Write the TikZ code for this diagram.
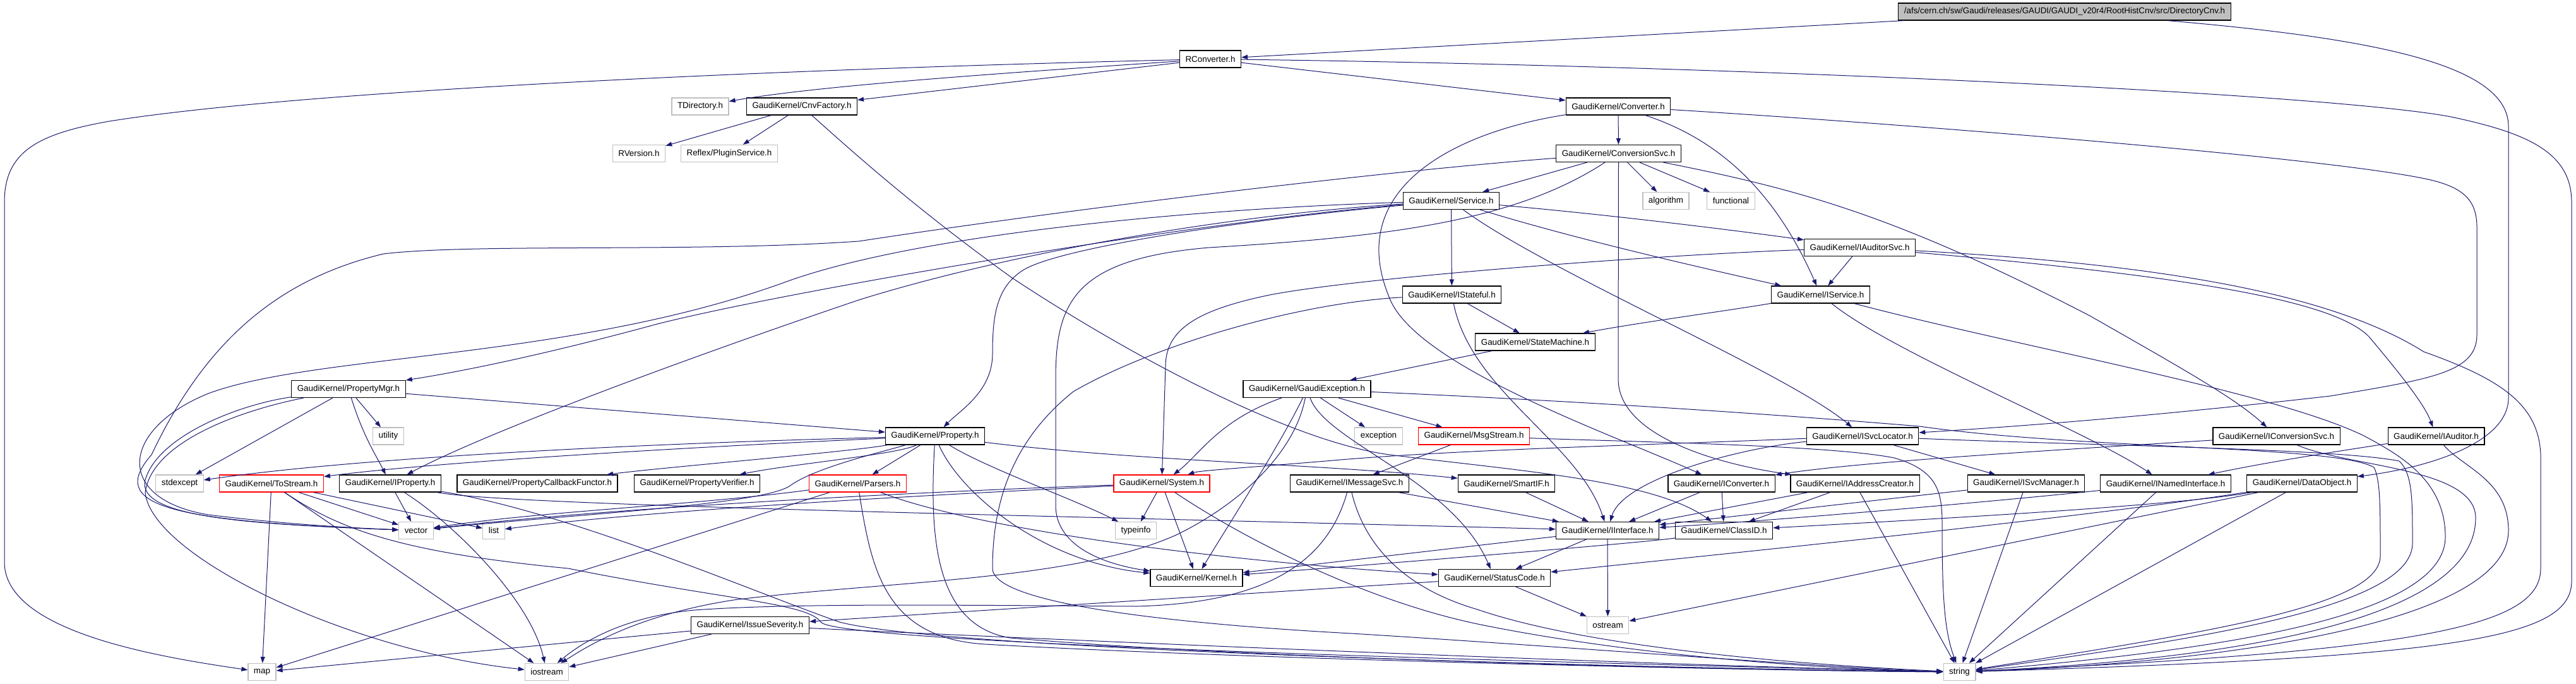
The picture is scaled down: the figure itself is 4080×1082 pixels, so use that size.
\documentclass[tikz,border=0pt]{standalone}
\usepackage{fontspec}
\newfontfamily\dotfont{Liberation Sans}
\usetikzlibrary{arrows.meta}
\definecolor{edgeblue}{HTML}{191970}
\definecolor{extgray}{HTML}{BFBFBF}
\tikzset{
  filebox/.style = {draw=black, line width=1.2pt, fill=white, inner xsep=9pt, inner ysep=0pt,
    minimum height=27pt, font=\dotfont\fontsize{13.4}{16}\selectfont},
  extbox/.style  = {filebox, draw=extgray},
  redbox/.style  = {filebox, draw=red},
  rootbox/.style = {filebox, fill=extgray},
  incl/.style    = {draw=edgeblue, line width=1pt, -{Triangle[length=10pt,width=7pt]}}
}

\begin{document}
\begin{tikzpicture}[x=1pt,y=-1pt]
  \fill[white] (0,0) rectangle (4080,1082);
  \useasboundingbox (0,0) rectangle (4080,1082);
  % headers, row by row
  \node[rootbox] (dircnv) at (3270,18.5) {/afs/cern.ch/sw/Gaudi/releases/GAUDI/GAUDI\_v20r4/RootHistCnv/src/DirectoryCnv.h};
  \node[filebox] (rconv) at (1917,93.5) {RConverter.h};
  \node[extbox]  (tdir) at (1109,168.5) {TDirectory.h};
  \node[filebox] (cnvfac) at (1270,168.5) {GaudiKernel/CnvFactory.h};
  \node[filebox] (conv) at (2563,168.5) {GaudiKernel/Converter.h};
  \node[extbox]  (rver) at (1012,243) {RVersion.h};
  \node[extbox]  (plugin) at (1155,243) {Reflex/PluginService.h};
  \node[filebox] (convsvc) at (2563.5,243) {GaudiKernel/ConversionSvc.h};
  \node[filebox] (service) at (2298.5,318) {GaudiKernel/Service.h};
  \node[extbox]  (algo) at (2638.5,318) {algorithm};
  \node[extbox]  (functional) at (2741.5,318) {functional};
  \node[filebox] (iaudsvc) at (2945.5,392) {GaudiKernel/IAuditorSvc.h};
  \node[filebox] (istateful) at (2299.5,466.5) {GaudiKernel/IStateful.h};
  \node[filebox] (iservice) at (2883.5,466.5) {GaudiKernel/IService.h};
  \node[filebox] (statemach) at (2431.5,541.5) {GaudiKernel/StateMachine.h};
  \node[filebox] (propmgr) at (552,616) {GaudiKernel/PropertyMgr.h};
  \node[filebox] (gaudiexc) at (2070,616) {GaudiKernel/GaudiException.h};
  \node[extbox]  (utility) at (615,690.5) {utility};
  \node[filebox] (property) at (1481,690.5) {GaudiKernel/Property.h};
  \node[extbox]  (exception) at (2183.5,690.5) {exception};
  \node[redbox]  (msgstream) at (2334.5,690.5) {GaudiKernel/MsgStream.h};
  \node[filebox] (isvcloc) at (2950,690.5) {GaudiKernel/ISvcLocator.h};
  \node[filebox] (iconvsvc) at (3605.5,690.5) {GaudiKernel/IConversionSvc.h};
  \node[filebox] (iauditor) at (3858.5,690.5) {GaudiKernel/IAuditor.h};
  \node[extbox]  (stdexcept) at (284.5,765.5) {stdexcept};
  \node[redbox]  (tostream) at (430,765.5) {GaudiKernel/ToStream.h};
  \node[filebox] (iproperty) at (618,765.5) {GaudiKernel/IProperty.h};
  \node[filebox] (propcb) at (851,765.5) {GaudiKernel/PropertyCallbackFunctor.h};
  \node[filebox] (propver) at (1104,765.5) {GaudiKernel/PropertyVerifier.h};
  \node[redbox]  (parsers) at (1358.5,765.5) {GaudiKernel/Parsers.h};
  \node[redbox]  (system) at (1840,765.5) {GaudiKernel/System.h};
  \node[filebox] (imsgsvc) at (2137.5,765.5) {GaudiKernel/IMessageSvc.h};
  \node[filebox] (smartif) at (2386,765.5) {GaudiKernel/SmartIF.h};
  \node[filebox] (iconverter) at (2726.5,765.5) {GaudiKernel/IConverter.h};
  \node[filebox] (iaddr) at (2938,765.5) {GaudiKernel/IAddressCreator.h};
  \node[filebox] (isvcmgr) at (3209,765.5) {GaudiKernel/ISvcManager.h};
  \node[filebox] (inamed) at (3430,765.5) {GaudiKernel/INamedInterface.h};
  \node[filebox] (dataobj) at (3646,765.5) {GaudiKernel/DataObject.h};
  \node[extbox]  (vector) at (659,840) {vector};
  \node[extbox]  (list) at (782,840) {list};
  \node[extbox]  (typeinfo) at (1799,840) {typeinfo};
  \node[filebox] (iinterface) at (2546,840) {GaudiKernel/IInterface.h};
  \node[filebox] (classid) at (2730.5,840) {GaudiKernel/ClassID.h};
  \node[filebox] (kernel) at (1895,915) {GaudiKernel/Kernel.h};
  \node[filebox] (statuscode) at (2367,915) {GaudiKernel/StatusCode.h};
  \node[filebox] (issev) at (1188,990) {GaudiKernel/IssueSeverity.h};
  \node[extbox]  (ostream) at (2546.5,990) {ostream};
  \node[extbox]  (map) at (415,1064) {map};
  \node[extbox]  (iostream) at (866,1064) {iostream};
  \node[extbox]  (string) at (3103.5,1064) {string};
  % DirectoryCnv.h
  \draw[incl] (dircnv) -- (rconv);
  \draw[incl] (dircnv) .. controls (3750,60) and (3973,100) .. (3973,200) -- (3973,630) .. controls (3973,700) and (3850,740) .. (dataobj);
  % RConverter.h
  \draw[incl] (rconv) .. controls (1600,115) and (1300,135) .. (tdir);
  \draw[incl] (rconv) -- (cnvfac);
  \draw[incl] (rconv) -- (conv);
  \draw[incl] (rconv) .. controls (1300,108) and (500,140) .. (173,192) .. controls (60,212) and (7,240) .. (7,320) -- (7,890) .. controls (7,1000) and (250,1040) .. (map);
  \draw[incl] (rconv) .. controls (2800,105) and (3700,150) .. (3882,185) .. controls (4000,210) and (4073,240) .. (4073,320) -- (4073,920) .. controls (4073,1010) and (3900,1040) .. (string);
  % CnvFactory.h
  \draw[incl] (cnvfac) -- (rver);
  \draw[incl] (cnvfac) -- (plugin);
  \draw[incl] (cnvfac) .. controls (1350,240) and (1450,330) .. (1603,440) .. controls (1800,570) and (2050,700) .. (2201,720) .. controls (2400,745) and (2620,760) .. (classid);
  % Converter.h
  \draw[incl] (conv) -- (convsvc);
  \draw[incl] (conv) .. controls (2720,220) and (2810,300) .. (iservice);
  \draw[incl] (conv) .. controls (3000,195) and (3700,250) .. (3850,285) .. controls (3905,298) and (3923,320) .. (3923,360) -- (3923,530) .. controls (3923,590) and (3850,600) .. (3691,627) .. controls (3400,660) and (3200,675) .. (isvcloc);
  \draw[incl] (conv) .. controls (2300,210) and (2130,300) .. (2200,470) .. controls (2240,580) and (2560,690) .. (iconverter);
  % ConversionSvc.h
  \draw[incl] (convsvc) -- (service);
  \draw[incl] (convsvc) -- (algo);
  \draw[incl] (convsvc) -- (functional);
  \draw[incl] (convsvc) .. controls (2850,300) and (3000,340) .. (3310,500) .. controls (3450,580) and (3540,630) .. (iconvsvc);
  \draw[incl] (convsvc) -- (2563,600) .. controls (2563,690) and (2720,735) .. (iaddr);
  \draw[incl] (convsvc) .. controls (2400,350) and (2200,375) .. (1915,392) .. controls (1700,410) and (1672,480) .. (1672,600) -- (1672,800) .. controls (1672,870) and (1760,895) .. (kernel);
  \draw[incl] (convsvc) .. controls (2200,270) and (1700,330) .. (1360,382) .. controls (1100,400) and (750,385) .. (607,402) .. controls (450,440) and (330,530) .. (240,720) .. controls (170,800) and (260,825) .. (vector);
  % Service.h
  \draw[incl] (service) .. controls (2550,340) and (2750,365) .. (iaudsvc);
  \draw[incl] (service) .. controls (2500,380) and (2700,425) .. (iservice);
  \draw[incl] (service) -- (istateful);
  \draw[incl] (service) .. controls (2450,430) and (2830,590) .. (isvcloc);
  \draw[incl] (service) .. controls (1900,350) and (1250,460) .. (1041,513) .. controls (850,565) and (720,590) .. (propmgr);
  \draw[incl] (service) .. controls (2000,345) and (1680,390) .. (1620,428) .. controls (1578,455) and (1572,500) .. (1572,560) .. controls (1572,620) and (1520,650) .. (property);
  \draw[incl] (service) .. controls (1950,340) and (1600,400) .. (1360,475) .. controls (1050,580) and (760,690) .. (iproperty);
  \draw[incl] (service) .. controls (1900,330) and (1450,370) .. (1240,448) .. controls (900,570) and (500,560) .. (330,623) .. controls (190,680) and (180,790) .. (330,815) .. controls (450,830) and (560,836) .. (vector);
  % IAuditorSvc.h
  \draw[incl] (iaudsvc) -- (iservice);
  \draw[incl] (iaudsvc) .. controls (3500,440) and (3700,480) .. (3752,533) .. controls (3800,590) and (3840,640) .. (iauditor);
  \draw[incl] (iaudsvc) .. controls (2600,405) and (2150,440) .. (2011,467) .. controls (1900,490) and (1846,520) .. (1846,580) -- (system);
  \draw[incl] (iaudsvc) .. controls (3450,420) and (3700,470) .. (3839,557) .. controls (3960,600) and (4021,640) .. (4024,720) -- (4024,900) .. controls (4024,990) and (3850,1030) .. (string);
  % IStateful.h
  \draw[incl] (istateful) -- (statemach);
  \draw[incl] (istateful) .. controls (2330,620) and (2500,700) .. (iinterface);
  \draw[incl] (istateful) .. controls (2050,480) and (1820,550) .. (1700,620) .. controls (1600,700) and (1572,800) .. (1572,900) .. controls (1572,960) and (1900,990) .. (2141,1003) .. controls (2500,1025) and (2900,1058) .. (string);
  % IService.h
  \draw[incl] (iservice) .. controls (2750,490) and (2600,510) .. (statemach);
  \draw[incl] (iservice) .. controls (3000,560) and (3300,680) .. (inamed);
  \draw[incl] (iservice) .. controls (3200,550) and (3600,620) .. (3744,690) .. controls (3800,720) and (3873,760) .. (3873,850) .. controls (3873,980) and (3500,1030) .. (string);
  % StateMachine.h
  \draw[incl] (statemach) -- (gaudiexc);
  % PropertyMgr.h
  \draw[incl] (propmgr) -- (property);
  \draw[incl] (propmgr) -- (utility);
  \draw[incl] (propmgr) -- (stdexcept);
  \draw[incl] (propmgr) .. controls (575,690) and (595,720) .. (iproperty);
  \draw[incl] (propmgr) .. controls (380,640) and (250,690) .. (230,760) .. controls (215,820) and (400,830) .. (vector);
  \draw[incl] (propmgr) .. controls (380,650) and (240,700) .. (230,780) .. controls (240,880) and (550,1030) .. (iostream);
  % GaudiException.h
  \draw[incl] (gaudiexc) -- (exception);
  \draw[incl] (gaudiexc) -- (msgstream);
  \draw[incl] (gaudiexc) .. controls (1930,665) and (1900,720) .. (system);
  \draw[incl] (gaudiexc) .. controls (2030,700) and (1940,840) .. (kernel);
  \draw[incl] (gaudiexc) .. controls (2050,720) and (1960,800) .. (1863,847) .. controls (1700,920) and (1400,920) .. (1162,950) .. controls (1000,975) and (920,1030) .. (iostream);
  \draw[incl] (gaudiexc) .. controls (2100,700) and (2300,760) .. (statuscode);
  \draw[incl] (gaudiexc) .. controls (2500,635) and (2800,655) .. (3040,675) .. controls (3300,712) and (3700,705) .. (3760,740) .. controls (3770,760) and (3770,800) .. (3770,880) .. controls (3770,960) and (3500,1000) .. (string);
  % Property.h
  \draw[incl] (property) .. controls (1100,700) and (600,720) .. (stdexcept);
  \draw[incl] (property) .. controls (1150,705) and (700,730) .. (tostream);
  \draw[incl] (property) .. controls (1350,715) and (1050,740) .. (propcb);
  \draw[incl] (property) .. controls (1420,720) and (1250,735) .. (propver);
  \draw[incl] (property) -- (parsers);
  \draw[incl] (property) .. controls (1560,740) and (1700,790) .. (typeinfo);
  \draw[incl] (property) .. controls (1520,780) and (1650,890) .. (kernel);
  \draw[incl] (property) .. controls (1800,730) and (2100,735) .. (smartif);
  \draw[incl] (property) .. controls (1472,850) and (1480,990) .. (1600,1010) .. controls (2000,1045) and (2800,1062) .. (string);
  \draw[incl] (property) .. controls (1400,715) and (1290,740) .. (1250,770) .. controls (1200,800) and (900,815) .. (vector);
  % MsgStream.h
  \draw[incl] (msgstream) -- (imsgsvc);
  \draw[incl] (msgstream) .. controls (2600,700) and (2900,705) .. (3000,725) .. controls (3070,745) and (3076,780) .. (3076,830) .. controls (3076,950) and (3080,1000) .. (string);
  % ISvcLocator.h
  \draw[incl] (isvcloc) .. controls (2750,710) and (2570,760) .. (iinterface);
  \draw[incl] (isvcloc) .. controls (2600,705) and (2300,712) .. (2100,730) .. controls (1980,740) and (1900,745) .. (system);
  \draw[incl] (isvcloc) -- (isvcmgr);
  \draw[incl] (isvcloc) .. controls (3300,705) and (3700,710) .. (3800,730) .. controls (3821,750) and (3821,790) .. (3821,860) .. controls (3821,960) and (3500,1010) .. (string);
  % IConversionSvc.h
  \draw[incl] (iconvsvc) .. controls (3300,710) and (2950,730) .. (iconverter);
  \draw[incl] (iconvsvc) .. controls (3720,740) and (3921,740) .. (3921,820) .. controls (3921,990) and (3500,1045) .. (string);
  % IAuditor.h
  \draw[incl] (iauditor) .. controls (3700,715) and (3600,730) .. (inamed);
  \draw[incl] (iauditor) .. controls (3900,740) and (3973,760) .. (3973,840) .. controls (3973,990) and (3500,1050) .. (string);
  % ToStream.h
  \draw[incl] (tostream) -- (map);
  \draw[incl] (tostream) -- (vector);
  \draw[incl] (tostream) -- (list);
  \draw[incl] (tostream) -- (iostream);
  \draw[incl] (tostream) .. controls (540,840) and (640,875) .. (900,900) .. controls (1150,950) and (1280,955) .. (1300,985) .. controls (1330,1020) and (2500,1050) .. (string);
  % IProperty.h
  \draw[incl] (iproperty) -- (vector);
  \draw[incl] (iproperty) .. controls (720,830) and (840,950) .. (iostream);
  \draw[incl] (iproperty) .. controls (800,800) and (1600,815) .. (iinterface);
  \draw[incl] (iproperty) .. controls (900,810) and (1200,940) .. (1330,985) .. controls (1500,1030) and (2600,1058) .. (string);
  % Parsers.h
  \draw[incl] (parsers) -- (map);
  \draw[incl] (parsers) .. controls (1100,800) and (850,810) .. (vector);
  \draw[incl] (parsers) .. controls (1550,840) and (1950,890) .. (statuscode);
  \draw[incl] (parsers) .. controls (1380,900) and (1400,1010) .. (1560,1020) .. controls (2000,1045) and (2800,1062) .. (string);
  % System.h
  \draw[incl] (system) -- (typeinfo);
  \draw[incl] (system) -- (kernel);
  \draw[incl] (system) .. controls (1550,775) and (1000,800) .. (vector);
  \draw[incl] (system) .. controls (1550,780) and (1050,805) .. (list);
  \draw[incl] (system) .. controls (1950,840) and (2150,950) .. (2350,990) .. controls (2600,1040) and (2900,1060) .. (string);
  % IMessageSvc.h
  \draw[incl] (imsgsvc) -- (iinterface);
  \draw[incl] (imsgsvc) .. controls (2100,900) and (1990,955) .. (1800,960) .. controls (1500,958) and (1250,955) .. (1100,966) .. controls (1000,975) and (930,1010) .. (iostream);
  \draw[incl] (imsgsvc) .. controls (2160,860) and (2220,930) .. (2340,965) .. controls (2500,1020) and (2800,1050) .. (string);
  % the interfaces
  \draw[incl] (smartif) -- (iinterface);
  \draw[incl] (iconverter) -- (iinterface);
  \draw[incl] (iconverter) -- (classid);
  \draw[incl] (iaddr) -- (iinterface);
  \draw[incl] (iaddr) -- (classid);
  \draw[incl] (iaddr) -- (string);
  \draw[incl] (isvcmgr) -- (iinterface);
  \draw[incl] (isvcmgr) -- (string);
  \draw[incl] (inamed) .. controls (3150,795) and (2800,825) .. (iinterface);
  \draw[incl] (inamed) -- (string);
  % DataObject.h
  \draw[incl] (dataobj) .. controls (3450,800) and (3100,820) .. (classid);
  \draw[incl] (dataobj) .. controls (3300,820) and (2700,880) .. (statuscode);
  \draw[incl] (dataobj) -- (ostream);
  \draw[incl] (dataobj) -- (string);
  % IInterface.h, ClassID.h
  \draw[incl] (iinterface) -- (kernel);
  \draw[incl] (iinterface) -- (statuscode);
  \draw[incl] (iinterface) -- (ostream);
  \draw[incl] (classid) .. controls (2600,860) and (2100,900) .. (kernel);
  % StatusCode.h, IssueSeverity.h
  \draw[incl] (statuscode) -- (ostream);
  \draw[incl] (statuscode) -- (issev);
  \draw[incl] (issev) -- (map);
  \draw[incl] (issev) -- (iostream);
  \draw[incl] (issev) .. controls (1500,1005) and (2500,1050) .. (string);
\end{tikzpicture}
\end{document}
